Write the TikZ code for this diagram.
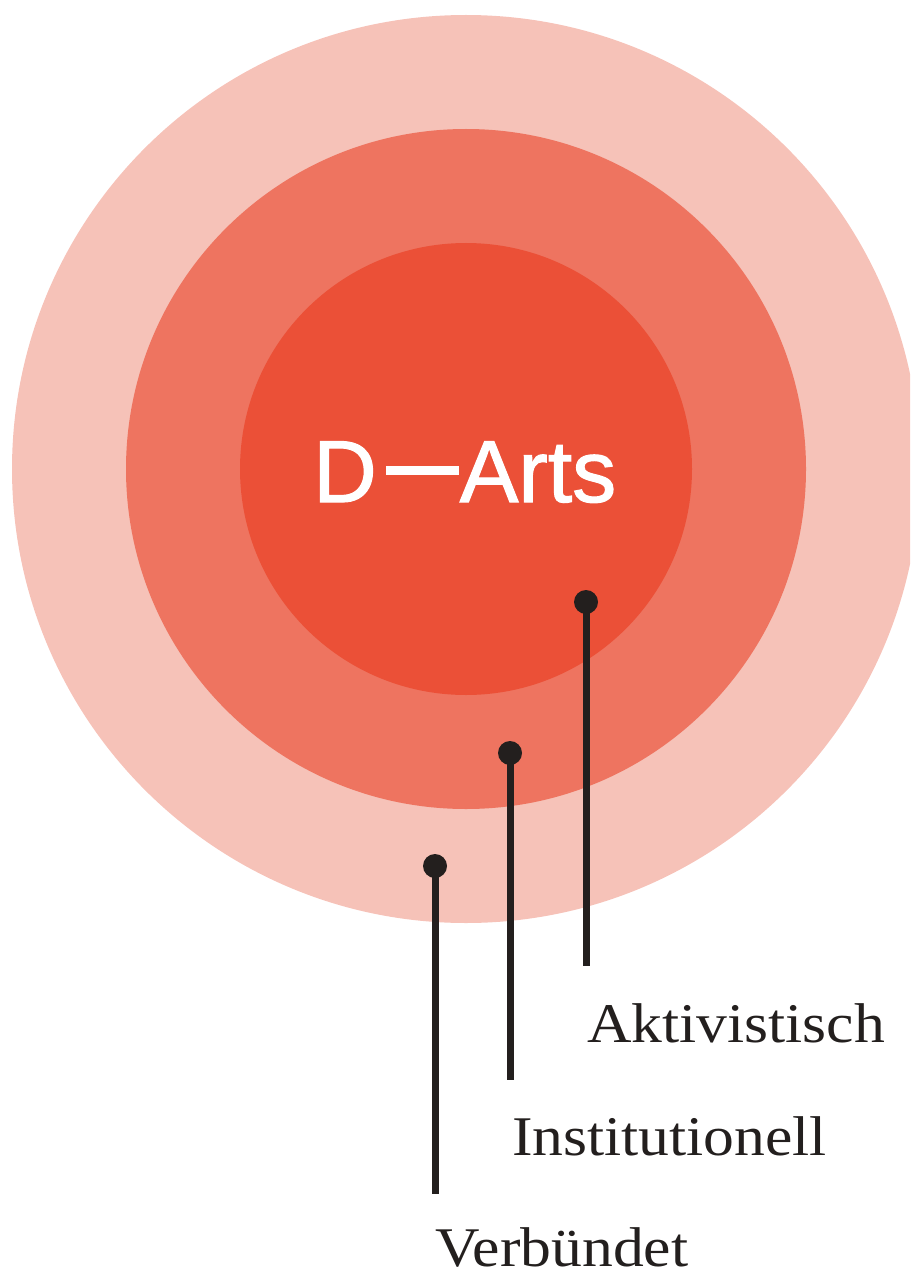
\documentclass[tikz,border=0pt]{standalone}
\usepackage{fontspec}
\setmainfont{Liberation Serif}[FakeStretch=1.1]
\newfontfamily\labelsans{Liberation Sans}[FakeBold=1.3]
\definecolor{ringouter}{RGB}{246,194,184}
\definecolor{ringmid}{RGB}{238,116,96}
\definecolor{ringinner}{RGB}{235,80,55}
\definecolor{ink}{RGB}{35,31,30}
\tikzset{
  ring/.style={draw=none},
  pin/.style={circle, fill=ink, minimum size=24pt, inner sep=0pt},
  stem/.style={draw=ink, line width=7pt},
  lbl/.style={anchor=base west, inner sep=0pt, text=ink, font=\fontsize{56}{60}\selectfont},
  title/.style={anchor=base west, inner sep=0pt, text=white, font=\labelsans\fontsize{88}{90}\selectfont}
}
\begin{document}
\begin{tikzpicture}[x=1pt,y=-1pt]
\useasboundingbox (0,0) rectangle (910,1273);
\clip (0,0) rectangle (910,1273);
\fill[ringouter] (466,469) circle[radius=454pt];
\fill[ringmid] (466,469) circle[radius=340pt];
\fill[ringinner] (466,469) circle[radius=226pt];
\node[title] (t) at (313,502) {D\hspace{9pt}\rule[27pt]{73pt}{9pt}\hspace{1pt}Arts};
\node[pin] (pa) at (586,602) {};
\node[pin] (pi) at (510,753) {};
\node[pin] (pv) at (435,866) {};
\coordinate (ea) at (586,966);
\coordinate (ei) at (510,1080);
\coordinate (ev) at (435,1194);
\draw[stem] (pa.center) -- (ea);
\draw[stem] (pi.center) -- (ei);
\draw[stem] (pv.center) -- (ev);
\node[lbl] (la) at (587,1042) {Aktivistisch};
\node[lbl] (li) at (512,1155) {Institutionell};
\node[lbl] (lv) at (435,1266) {Verbündet};
\end{tikzpicture}
\end{document}
